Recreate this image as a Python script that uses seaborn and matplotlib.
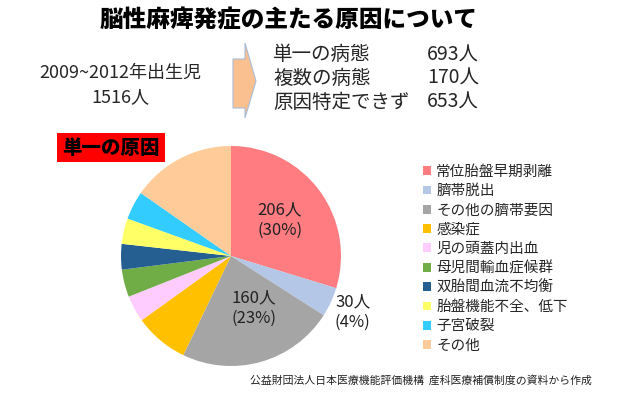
import numpy as np
import matplotlib
matplotlib.use("Agg")
import matplotlib.pyplot as plt
import seaborn as sns
from matplotlib.patches import Polygon, Rectangle

sns.set_theme(style="white")
plt.rcParams['font.family'] = ['Noto Sans CJK JP', 'DejaVu Sans']

# data
causes = ['常位胎盤早期剥離', '臍帯脱出', 'その他の臍帯要因', '感染症', '児の頭蓋内出血',
          '母児間輸血症候群', '双胎間血流不均衡', '胎盤機能不全、低下', '子宮破裂', 'その他']
counts = [206, 30, 160, 55, 27, 28, 26, 26, 29, 106]
labelled = {0: '206人\n(30%)', 1: '30人\n(4%)', 2: '160人\n(23%)'}

summary_names = ['単一の病態', '複数の病態', '原因特定できず']
summary_counts = [693, 170, 653]

colors = sns.color_palette(['#FF7C80', '#B4C7E7', '#A5A5A5', '#FFC000', '#FFCCFF',
                            '#70AD47', '#255E91', '#FFFF66', '#33CCFF', '#FFCC99'])

W, H = 640, 396
fig = plt.figure(figsize=(W / 100, H / 100), dpi=100)

def fx(px):
    return px / W

def fy(py):
    return 1 - py / H

# pie
cx, cy, r = 231, 256, 110
half = r * 1.25
ax = fig.add_axes([fx(cx - half), fy(cy + half), 2 * half / W, 2 * half / H])
wedges, _ = ax.pie(counts, colors=colors, startangle=90, counterclock=False,
                   wedgeprops=dict(linewidth=0))
ax.set_aspect('equal')

# labels on the three big slices
label_r = {0: 0.55, 1: 1.22, 2: 0.52}
label_shift = {0: 0, 1: 0, 2: 8}
for i, txt in labelled.items():
    w = wedges[i]
    mid = np.deg2rad((w.theta1 + w.theta2) / 2 + label_shift[i])
    ax.text(label_r[i] * np.cos(mid), label_r[i] * np.sin(mid), txt,
            ha='center', va='center', fontsize=12, color='#222222', linespacing=1.3)

# title
fig.text(fx(289), fy(20), '脳性麻痺発症の主たる原因について', ha='center', va='center',
         fontsize=17, fontweight='heavy', color='black')

# left summary
fig.text(fx(120), fy(73), '2009~2012年出生児', ha='center', va='center', fontsize=13)
fig.text(fx(120), fy(97), '1516人', ha='center', va='center', fontsize=13)

# arrow
pts = [(233, 59), (245, 59), (245, 43), (256, 81), (245, 118), (245, 108), (233, 108)]
fig.add_artist(Polygon([(fx(x), fy(y)) for x, y in pts], closed=True,
                       transform=fig.transFigure, facecolor='#FAC090',
                       edgecolor='#A9BCD6', linewidth=0.8))

# right summary
for k, (name, n) in enumerate(zip(summary_names, summary_counts)):
    yy = 55 + k * 23.5
    fig.text(fx(273), fy(yy), name, ha='left', va='center', fontsize=14)
    fig.text(fx(427), fy(yy), f'{n}人', ha='left', va='center', fontsize=14)

# red label box
fig.add_artist(Rectangle((fx(57), fy(162)), fx(165) - fx(57), fy(133) - fy(162),
                         transform=fig.transFigure, facecolor='#FF0000', edgecolor='none'))
fig.text(fx(111), fy(148), '単一の原因', ha='center', va='center', fontsize=14,
         fontweight='heavy', color='black')

# legend
fig.legend(wedges, causes, loc='upper left', bbox_to_anchor=(fx(423), fy(165)),
           frameon=False, fontsize=10.5, handlelength=0.55, handleheight=0.55,
           handletextpad=0.35, labelspacing=0.36, borderpad=0, borderaxespad=0)

# source
fig.text(fx(592), fy(380), '公益財団法人日本医療機能評価機構  産科医療補償制度の資料から作成',
         ha='right', va='center', fontsize=7.8, color='#222222')

fig.savefig('out.png', dpi=100)
